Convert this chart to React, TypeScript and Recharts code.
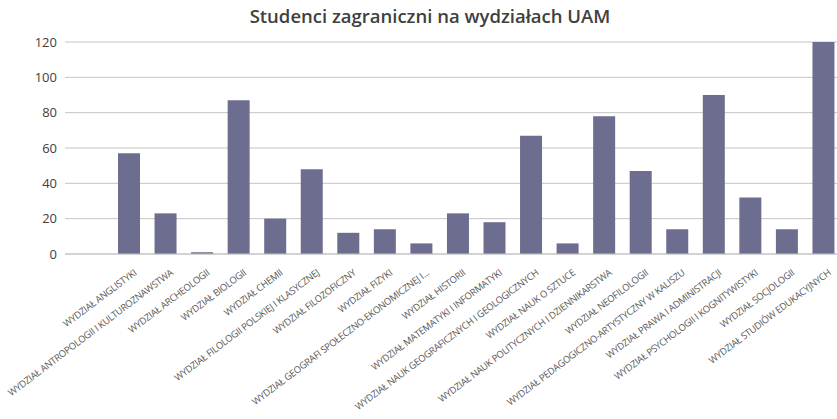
import { BarChart, Bar, XAxis, YAxis, CartesianGrid } from 'recharts';

const faculties = [
  'WYDZIAŁ ANGLISTYKI',
  'WYDZIAŁ ANTROPOLOGII I KULTUROZNAWSTWA',
  'WYDZIAŁ ARCHEOLOGII',
  'WYDZIAŁ BIOLOGII',
  'WYDZIAŁ CHEMII',
  'WYDZIAŁ FILOLOGII POLSKIEJ I KLASYCZNEJ',
  'WYDZIAŁ FILOZOFICZNY',
  'WYDZIAŁ FIZYKI',
  'WYDZIAŁ GEOGRAFI SPOŁECZNO-EKONOMICZNEJ I...',
  'WYDZIAŁ HISTORII',
  'WYDZIAŁ MATEMATYKI I INFORMATYKI',
  'WYDZIAŁ NAUK GEOGRAFICZNYCH I GEOLOGICZNYCH',
  'WYDZIAŁ NAUK O SZTUCE',
  'WYDZIAŁ NAUK POLITYCZNYCH I DZIENNIKARSTWA',
  'WYDZIAŁ NEOFILOLOGII',
  'WYDZIAŁ PEDAGOGICZNO-ARTYSTYCZNY W KALISZU',
  'WYDZIAŁ PRAWA I ADMINISTRACJI',
  'WYDZIAŁ PSYCHOLOGII I KOGNITYWISTYKI',
  'WYDZIAŁ SOCJOLOGII',
  'WYDZIAŁ STUDIÓW EDUKACYJNYCH',
];

const students = [57, 23, 1, 87, 20, 48, 12, 14, 6, 23, 18, 67, 6, 78, 47, 14, 90, 32, 14, 120];

const yTicks = [0, 20, 40, 60, 80, 100, 120];

const data = faculties.map((name, i) => ({ name, students: students[i] }));

// rotated category label, end of text sits just under the tick
function FacultyTick(props: any) {
  const { x, y, payload } = props;
  return (
    <g transform={`translate(${x + 8},${y + 12})`}>
      <text
        transform="rotate(-37)"
        textAnchor="end"
        fontSize={9.5}
        letterSpacing={-0.3}
        fill="#595959"
        fontFamily="'Open Sans', sans-serif"
      >
        {payload.value}
      </text>
    </g>
  );
}

export default function App() {
  return (
    <div
      style={{
        position: 'fixed',
        left: 0,
        top: 0,
        width: 837,
        height: 419,
        overflow: 'hidden',
        background: '#fff',
        fontFamily: "'Open Sans', sans-serif",
      }}
    >
      {/* Title */}
      <div
        style={{
          position: 'absolute',
          left: 180,
          width: 500,
          top: 3,
          textAlign: 'center',
          fontSize: 18.5,
          fontWeight: 600,
          color: '#404040',
        }}
      >
        Studenci zagraniczni na wydziałach UAM
      </div>

      {/* Chart */}
      <BarChart
        width={842}
        height={419}
        data={data}
        margin={{ top: 42, right: 0, bottom: 0, left: 0 }}
      >
        <CartesianGrid vertical={false} stroke="#c4c4c4" />
        <XAxis
          dataKey="name"
          interval={0}
          height={165}
          padding={{ left: 46, right: 0 }}
          tickLine={false}
          axisLine={{ stroke: '#c4c4c4' }}
          tick={<FacultyTick />}
        />
        <YAxis
          width={65}
          domain={[0, 120]}
          ticks={yTicks}
          tickLine={false}
          axisLine={false}
          tick={{ fontSize: 13, fill: '#404040', fontFamily: "'Open Sans', sans-serif" }}
        />
        <Bar dataKey="students" fill="#6c6d8f" barSize={22} isAnimationActive={false} />
      </BarChart>
    </div>
  );
}
